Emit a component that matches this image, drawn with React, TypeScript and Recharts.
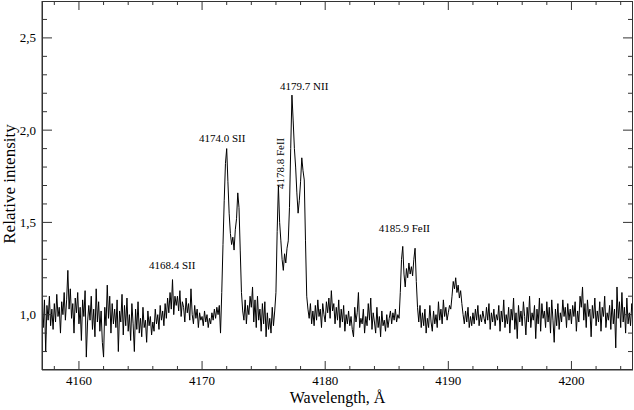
import React from 'react';
import { LineChart, Line, XAxis, YAxis, ReferenceDot } from 'recharts';

// spectrum sampled every 0.1 Å starting at 4157.0 Å
const startWavelength = 4157;
const sampleStep = 0.1;
const intensity: number[] = [
  1.02, 0.93, 1.08, 0.80, 1.05, 0.97, 1.10, 0.94, 1.03, 0.92, // 4157
  1.06, 0.96, 1.11, 0.99, 1.04, 0.90, 1.07, 1.00, 1.12, 0.97, // 4158
  1.08, 1.24, 1.03, 1.14, 0.98, 1.06, 0.90, 1.09, 1.01, 1.12, // 4159
  0.95, 1.04, 0.86, 1.08, 0.99, 1.13, 0.77, 0.96, 1.05, 0.97, // 4160
  1.10, 0.92, 1.03, 0.88, 1.14, 0.96, 1.07, 0.91, 1.02, 0.85, // 4161
  0.77, 1.04, 0.94, 1.16, 0.98, 1.10, 0.90, 1.06, 0.95, 1.03, // 4162
  0.93, 1.08, 0.80, 1.02, 0.96, 1.11, 0.89, 1.05, 0.94, 1.09, // 4163
  0.91, 1.00, 0.86, 1.06, 0.95, 0.80, 1.03, 0.92, 1.07, 0.90, // 4164
  0.98, 0.88, 1.04, 0.93, 0.97, 0.85, 1.02, 0.94, 0.99, 0.89, // 4165
  0.96, 0.91, 1.03, 0.95, 1.00, 0.92, 1.05, 0.97, 1.02, 0.94, // 4166
  1.06, 0.98, 1.09, 1.01, 1.12, 1.03, 1.19, 1.00, 1.10, 1.05, // 4167
  1.10, 1.02, 1.13, 0.99, 1.07, 1.04, 0.96, 1.09, 1.01, 1.06, // 4168
  0.97, 1.14, 1.00, 0.95, 1.05, 0.98, 1.03, 0.93, 1.01, 0.97, // 4169
  0.99, 0.94, 1.02, 0.96, 1.00, 0.93, 0.98, 0.95, 1.01, 0.97, // 4170
  1.03, 0.98, 1.04, 1.00, 1.05, 0.90, 1.12, 1.38, 1.62, 1.82, // 4171
  1.90, 1.72, 1.55, 1.44, 1.38, 1.42, 1.35, 1.46, 1.52, 1.66, // 4172
  1.58, 1.35, 1.12, 1.02, 0.97, 1.08, 0.95, 1.05, 1.00, 1.10, // 4173
  1.04, 1.15, 0.96, 1.08, 0.93, 1.10, 0.97, 1.03, 0.91, 1.06, // 4174
  0.95, 1.07, 0.88, 1.01, 0.92, 0.98, 0.90, 1.04, 0.94, 1.02, // 4175
  1.12, 1.45, 1.70, 1.50, 1.40, 1.30, 1.24, 1.33, 1.28, 1.36, // 4176
  1.40, 1.58, 1.90, 2.19, 2.05, 1.90, 1.80, 1.66, 1.55, 1.62, // 4177
  1.72, 1.85, 1.78, 1.73, 1.40, 1.10, 1.03, 0.98, 1.06, 0.95, // 4178
  1.02, 0.94, 1.05, 0.97, 1.08, 0.99, 1.03, 0.93, 1.06, 1.00, // 4179
  0.96, 1.07, 1.01, 1.09, 0.98, 1.13, 1.02, 1.06, 0.95, 1.04, // 4180
  0.97, 1.08, 0.93, 1.03, 0.96, 1.05, 0.91, 1.00, 0.95, 1.02, // 4181
  0.94, 0.99, 0.92, 0.88, 1.04, 0.96, 1.01, 1.12, 0.93, 0.98, // 4182
  0.95, 1.03, 0.90, 0.99, 0.94, 1.06, 0.97, 1.09, 0.92, 1.01, // 4183
  0.96, 0.90, 1.04, 0.93, 0.99, 0.88, 1.02, 0.94, 0.97, 0.91, // 4184
  1.00, 0.93, 0.98, 1.02, 0.95, 1.01, 0.97, 1.03, 0.96, 1.00, // 4185
  0.98, 1.12, 1.30, 1.37, 1.22, 1.15, 1.25, 1.20, 1.28, 1.22, // 4186
  1.26, 1.21, 1.30, 1.36, 1.18, 1.04, 0.96, 1.05, 0.93, 1.01, // 4187
  0.94, 1.03, 0.90, 0.98, 0.93, 1.05, 0.96, 0.91, 1.02, 0.95, // 4188
  1.00, 0.93, 1.07, 0.97, 1.03, 0.95, 1.08, 0.99, 1.04, 0.97, // 4189
  1.01, 1.05, 1.03, 1.10, 1.18, 1.14, 1.20, 1.12, 1.16, 1.09, // 4190
  1.13, 1.06, 1.00, 0.95, 1.02, 0.96, 1.04, 0.93, 0.99, 0.94, // 4191
  1.01, 0.95, 1.03, 0.97, 1.05, 0.94, 1.00, 0.96, 1.02, 0.98, // 4192
  0.95, 1.04, 0.97, 1.06, 0.92, 1.01, 0.96, 1.03, 0.94, 1.00, // 4193
  0.97, 1.05, 0.91, 1.02, 0.96, 1.08, 0.93, 1.00, 0.95, 1.04, // 4194
  0.90, 1.03, 0.97, 1.09, 0.92, 1.01, 0.87, 1.05, 0.96, 1.02, // 4195
  0.94, 1.07, 0.99, 0.89, 1.04, 0.96, 1.10, 0.93, 1.01, 0.97, // 4196
  1.05, 0.87, 1.03, 0.95, 1.09, 0.91, 1.06, 0.98, 1.02, 0.93, // 4197
  1.07, 0.96, 1.04, 0.90, 1.08, 0.97, 0.85, 1.03, 0.94, 1.06, // 4198
  0.92, 1.01, 0.96, 1.08, 0.99, 1.04, 0.93, 1.06, 0.97, 1.03, // 4199
  0.95, 1.05, 0.99, 1.07, 0.91, 1.02, 0.96, 1.10, 1.04, 1.15, // 4200
  0.97, 1.06, 0.93, 1.08, 0.99, 1.03, 0.88, 1.05, 0.98, 1.09, // 4201
  0.94, 1.02, 0.96, 1.07, 0.91, 1.04, 0.99, 1.10, 0.93, 1.01, // 4202
  0.97, 1.05, 0.92, 1.08, 0.95, 1.03, 0.82, 1.15, 0.98, 1.07, // 4203
  0.93, 1.12, 0.96, 1.04, 0.90, 1.09, 0.95, 1.01, 0.94, 1.06, // 4204
  0.99, // 4205
];

const xTicks = [4158, 4160, 4162, 4164, 4166, 4168, 4170, 4172, 4174, 4176, 4178, 4180, 4182, 4184, 4186, 4188, 4190, 4192, 4194, 4196, 4198, 4200, 4202, 4204];
const yTicks = [0.8, 0.9, 1.0, 1.1, 1.2, 1.3, 1.4, 1.5, 1.6, 1.7, 1.8, 1.9, 2.0, 2.1, 2.2, 2.3, 2.4, 2.5, 2.6];

const lineLabels = [
  { text: '4168.4 SII', x: 4167.57, y: 1.27, angle: 0 },
  { text: '4174.0 SII', x: 4171.63, y: 1.955, angle: 0 },
  { text: '4178.8 FeII', x: 4176.3, y: 1.82, angle: -90 },
  { text: '4179.7 NII', x: 4178.3, y: 2.24, angle: 0 },
  { text: '4185.9 FeII', x: 4186.43, y: 1.47, angle: 0 },
];

const data = intensity.map((v, i) => ({
  w: Math.round((startWavelength + i * sampleStep) * 10) / 10,
  v,
}));

const W = 634;
const H = 410;
const LEFT = 42;
const RIGHT = 633;
const TOP = 1;
const BOTTOM = 370;
const FONT = '"Liberation Serif", "Times New Roman", serif';
const AXIS_COLOR = '#333';

const XTick = (props: any) => {
  const { x, payload } = props;
  const val = payload.value as number;
  const major = val % 10 === 0;
  const len = major ? 9 : 4;
  return (
    <g>
      <line x1={x} x2={x} y1={BOTTOM} y2={BOTTOM - len} stroke={AXIS_COLOR} />
      <line x1={x} x2={x} y1={TOP} y2={TOP + len} stroke={AXIS_COLOR} />
      {major && (
        <text x={x} y={BOTTOM + 15} textAnchor="middle" fontSize={13} fontFamily={FONT} fill="#000">
          {val}
        </text>
      )}
    </g>
  );
};

const YTick = (props: any) => {
  const { y, payload } = props;
  const val = payload.value as number;
  const major = Math.abs(val * 2 - Math.round(val * 2)) < 1e-6;
  const len = major ? 10 : 5;
  return (
    <g>
      <line x1={LEFT} x2={LEFT + len} y1={y} y2={y} stroke={AXIS_COLOR} />
      <line x1={RIGHT} x2={RIGHT - len} y1={y} y2={y} stroke={AXIS_COLOR} />
      {major && (
        <text x={LEFT - 6} y={y + 4.5} textAnchor="end" fontSize={13} fontFamily={FONT} fill="#000">
          {val.toFixed(1).replace('.', ',')}
        </text>
      )}
    </g>
  );
};

const PeakLabel = (text: string, angle: number) => (props: any) => {
  const { viewBox } = props;
  const cx = viewBox.x + viewBox.width / 2;
  const cy = viewBox.y + viewBox.height / 2;
  return (
    <text
      x={cx}
      y={cy}
      textAnchor="middle"
      dominantBaseline="central"
      fontSize={11}
      fontFamily={FONT}
      fill="#000"
      transform={angle ? `rotate(${angle} ${cx} ${cy})` : undefined}
    >
      {text}
    </text>
  );
};

export default function App() {
  return (
    <div style={{ position: 'fixed', left: 0, top: 0, width: W, height: H, background: '#fff' }}>
      <LineChart width={W} height={H} data={data} margin={{ top: TOP, right: W - RIGHT, bottom: 0, left: 0 }}>
        <XAxis
          dataKey="w"
          type="number"
          domain={[4157, 4205]}
          ticks={xTicks}
          interval={0}
          allowDataOverflow
          height={H - BOTTOM}
          tickLine={false}
          tickSize={0}
          tick={<XTick />}
          stroke={AXIS_COLOR}
          label={{
            content: (p: any) => (
              <text x={p.viewBox.x + p.viewBox.width / 2} y={BOTTOM + 33} textAnchor="middle" fontSize={16} fontFamily={FONT} fill="#000">
                Wavelength, Å
              </text>
            ),
          }}
        />
        <YAxis
          type="number"
          domain={[0.7, 2.7]}
          ticks={yTicks}
          interval={0}
          allowDataOverflow
          width={LEFT}
          tickLine={false}
          tickSize={0}
          tick={<YTick />}
          stroke={AXIS_COLOR}
          label={{
            content: () => (
              <text x={15} y={184} textAnchor="middle" fontSize={17} fontFamily={FONT} fill="#000" transform="rotate(-90 15 184)">
                Relative intensity
              </text>
            ),
          }}
        />
        <Line type="linear" dataKey="v" stroke="#000" strokeWidth={1} dot={false} isAnimationActive={false} />
        {lineLabels.map((l) => (
          <ReferenceDot
            key={l.text}
            x={l.x}
            y={l.y}
            r={0}
            fill="none"
            stroke="none"
            ifOverflow="visible"
            label={{ content: PeakLabel(l.text, l.angle) }}
          />
        ))}
      </LineChart>
      <div
        style={{
          position: 'absolute',
          left: LEFT,
          top: TOP,
          width: RIGHT - LEFT,
          height: BOTTOM - TOP,
          border: `1px solid ${AXIS_COLOR}`,
          boxSizing: 'border-box',
          pointerEvents: 'none',
        }}
      />
    </div>
  );
}
